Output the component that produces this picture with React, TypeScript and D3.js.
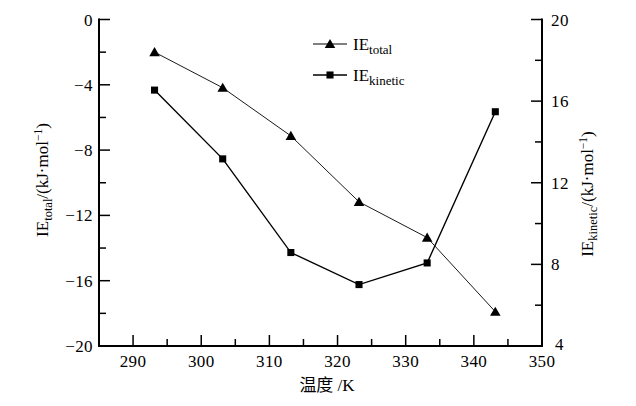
import React from "react";
import * as d3 from "d3";

const temps = [293.15, 303.15, 313.15, 323.15, 333.15, 343.15];
const ieTotal = [-2.0, -4.18, -7.13, -11.17, -13.36, -17.9];
const ieKinetic = [16.54, 13.17, 8.58, 7.01, 8.07, 15.48];
const xTicks = [290, 300, 310, 320, 330, 340, 350];
const xMinor = [295, 305, 315, 325, 335, 345];
const yLeftTicks = [0, -4, -8, -12, -16, -20];
const yLeftMinor = [-2, -6, -10, -14, -18];
const yRightTicks = [4, 8, 12, 16, 20];
const yRightMinor = [6, 10, 14, 18];

const W = 636, H = 406;
const L = 99, R = 542, T = 19.5, B = 346;
const FONT = "'Liberation Serif', 'Times New Roman', 'Noto Sans CJK SC', serif";
const fmt = (v: number) => (v < 0 ? "\u2212" + Math.abs(v) : String(v));

export default function App() {
  const x = d3.scaleLinear().domain([285, 350]).range([L, R]);
  const yL = d3.scaleLinear().domain([-20, 0]).range([B, T]);
  const yR = d3.scaleLinear().domain([4, 20]).range([B, T]);
  const line = d3.line<[number, number]>().x(d => d[0]).y(d => d[1]);
  const totalPts: [number, number][] = temps.map((t, i) => [x(t), yL(ieTotal[i])]);
  const kinPts: [number, number][] = temps.map((t, i) => [x(t), yR(ieKinetic[i])]);
  const tri = d3.symbol().type(d3.symbolTriangle).size(48)();
  const sq = d3.symbol().type(d3.symbolSquare).size(50)();

  return (
    <svg width={W} height={H} style={{ position: "absolute", left: 0, top: 0, background: "#fff" }} fontFamily={FONT}>
      <g stroke="#000" strokeWidth={2} fill="none">
        <line x1={L} y1={T - 1} x2={L} y2={B + 1} />
        <line x1={R} y1={T - 1} x2={R} y2={B + 1} />
        <line x1={L - 1} y1={B} x2={R + 1} y2={B} />
      </g>
      <g stroke="#000" strokeWidth={1.5}>
        {xTicks.map(t => <line key={t} x1={x(t)} x2={x(t)} y1={B} y2={B - 11} />)}
        {xMinor.map(t => <line key={t} x1={x(t)} x2={x(t)} y1={B} y2={B - 7} />)}
        {yLeftTicks.map(t => <line key={t} x1={L} x2={L + 11} y1={yL(t)} y2={yL(t)} />)}
        {yLeftMinor.map(t => <line key={t} x1={L} x2={L + 7} y1={yL(t)} y2={yL(t)} />)}
        {yRightTicks.map(t => <line key={t} x1={R} x2={R - 11} y1={yR(t)} y2={yR(t)} />)}
        {yRightMinor.map(t => <line key={t} x1={R} x2={R - 7} y1={yR(t)} y2={yR(t)} />)}
      </g>
      <g fontSize={17} fill="#000">
        {xTicks.map(t => (
          <text key={t} x={x(t)} y={B + 21} textAnchor="middle" letterSpacing={0.4}>{t}</text>
        ))}
        {yLeftTicks.map(t => (
          <text key={t} x={L - 6} y={yL(t) + 6} textAnchor="end" letterSpacing={0.4}>{fmt(t)}</text>
        ))}
        {yRightTicks.map(t => (
          <text key={t} x={t === 4 ? R + 13 : R + 9} y={yR(t) + (t === 4 ? 4 : 6)} textAnchor="start" letterSpacing={0.4}>{t}</text>
        ))}
      </g>
      <text x={327} y={391} fontSize={17} textAnchor="middle">温度 /K</text>
      <text transform={`translate(48,180) rotate(-90)`} fontSize={17} textAnchor="middle">
        IE<tspan fontSize={12.5} dy={4}>total</tspan><tspan dy={-4}>/(kJ·mol</tspan><tspan fontSize={11.5} dy={-6}>−1</tspan><tspan dy={6}>)</tspan>
      </text>
      <text transform={`translate(593,194) rotate(-90)`} fontSize={17} textAnchor="middle">
        IE<tspan fontSize={12.5} dy={4}>kinetic</tspan><tspan dy={-4}>/(kJ·mol</tspan><tspan fontSize={11.5} dy={-6}>−1</tspan><tspan dy={6}>)</tspan>
      </text>
      <path d={line(totalPts) || ""} fill="none" stroke="#000" strokeWidth={0.9} />
      <path d={line(kinPts) || ""} fill="none" stroke="#000" strokeWidth={1.4} />
      {totalPts.map((p, i) => <path key={i} d={tri || ""} transform={`translate(${p[0]},${p[1] + 1})`} fill="#000" />)}
      {kinPts.map((p, i) => <path key={i} d={sq || ""} transform={`translate(${p[0]},${p[1]})`} fill="#000" />)}
      <g>
        <line x1={313} x2={347} y1={44} y2={44} stroke="#000" strokeWidth={1} />
        <path d={tri || ""} transform="translate(330,45)" fill="#000" />
        <text x={353} y={50} fontSize={17}>IE<tspan fontSize={13} dy={4}>total</tspan></text>
        <line x1={313} x2={347} y1={75} y2={75} stroke="#000" strokeWidth={1.4} />
        <path d={sq || ""} transform="translate(330,75)" fill="#000" />
        <text x={353} y={81} fontSize={17}>IE<tspan fontSize={13} dy={4}>kinetic</tspan></text>
      </g>
    </svg>
  );
}
